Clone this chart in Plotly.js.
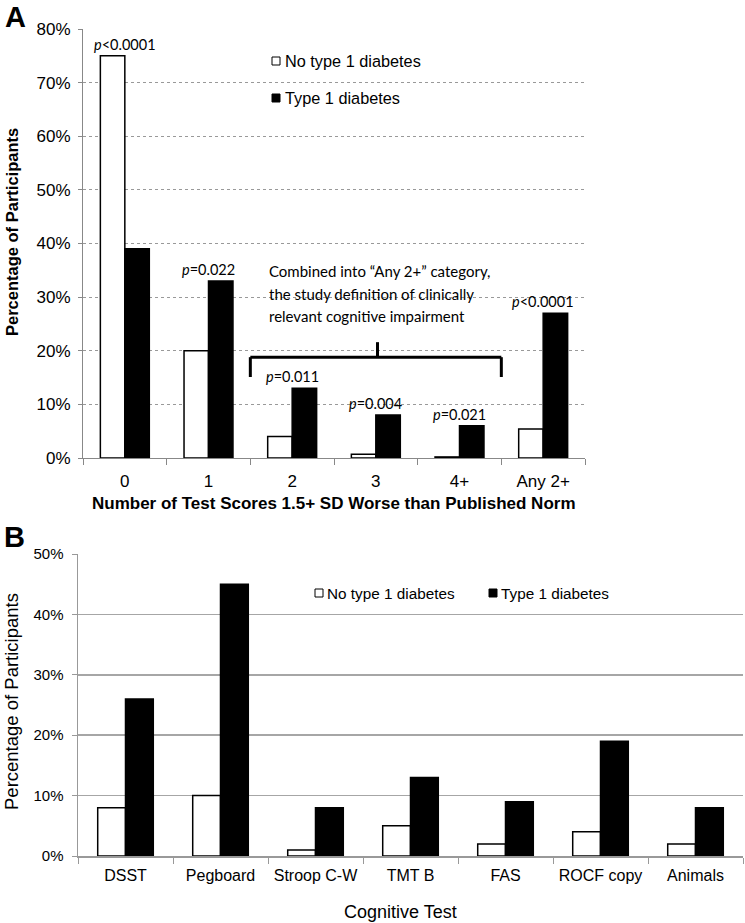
<!DOCTYPE html>
<html><head><meta charset="utf-8">
<script src="https://cdn.plot.ly/plotly-3.0.1.min.js"></script>
<style>body{margin:0;background:#fff}</style>
</head><body><div id="chart" style="width:745px;height:923px"></div>
<script>
// ---- data ----
const catsA = ['0', '1', '2', '3', '4+', 'Any 2+'];
const noT1dA = [75, 20, 4, 0.7, 0.2, 5.4];
const t1dA = [39, 33, 13, 8, 6, 27];
const pLabelsA = ['<i>p</i>&lt;0.0001', '<i>p</i>=0.022', '<i>p</i>=0.011', '<i>p</i>=0.004', '<i>p</i>=0.021', '<i>p</i>&lt;0.0001'];
const catsB = ['DSST', 'Pegboard', 'Stroop C-W', 'TMT B', 'FAS', 'ROCF copy', 'Animals'];
const noT1dB = [8, 10, 1, 5, 2, 4, 2];
const t1dB = [26, 45, 8, 13, 9, 19, 8];
const seriesNames = ['No type 1 diabetes', 'Type 1 diabetes'];
const bracketText = ['Combined into \u201cAny 2+\u201d category,', 'the study definition of clinically', 'relevant cognitive impairment'];

// ---- helpers (pixel -> paper) ----
const W = 745, H = 923;
const px = v => v / W;
const py = v => 1 - v / H;
const ARIAL = 'Arial, "Liberation Sans", sans-serif';
const CAL = 'Lato, "Open Sans", sans-serif';

const white = {color: '#ffffff', line: {color: '#000', width: 1.5}};
const black = {color: '#000000', line: {color: '#000', width: 1.5}};

const traces = [
  {type: 'bar', x: catsA, y: noT1dA, name: seriesNames[0], marker: white, xaxis: 'x', yaxis: 'y', showlegend: false, hoverinfo: 'none'},
  {type: 'bar', x: catsA, y: t1dA, name: seriesNames[1], marker: black, xaxis: 'x', yaxis: 'y', showlegend: false, hoverinfo: 'none'},
  {type: 'bar', x: catsB, y: noT1dB, name: seriesNames[0], marker: white, xaxis: 'x2', yaxis: 'y2', showlegend: false, hoverinfo: 'none'},
  {type: 'bar', x: catsB, y: t1dB, name: seriesNames[1], marker: black, xaxis: 'x2', yaxis: 'y2', showlegend: false, hoverinfo: 'none'}
];

const annotations = [];
// p-value labels
catsA.forEach((c, i) => {
  annotations.push({xref: 'x', yref: 'y', x: c, y: Math.max(noT1dA[i], t1dA[i]), yanchor: 'bottom', yshift: 1,
    text: pLabelsA[i], showarrow: false, font: {family: CAL, size: 14.5, color: '#000'}});
});
// bracket explanation text
const bracketY = [34.9, 30.6, 26.4];
bracketText.forEach((t, i) => {
  annotations.push({xref: 'x', yref: 'y', x: 1.7, y: bracketY[i], xanchor: 'left', yanchor: 'middle',
    text: t, showarrow: false, font: {family: CAL, size: 15, color: '#000'}});
});
// panel letters
annotations.push({xref: 'paper', yref: 'paper', x: px(3), y: py(17), xanchor: 'left', yanchor: 'middle', text: '<b>A</b>', showarrow: false, font: {family: ARIAL, size: 29, color: '#000'}});
annotations.push({xref: 'paper', yref: 'paper', x: px(2), y: py(537), xanchor: 'left', yanchor: 'middle', text: '<b>B</b>', showarrow: false, font: {family: ARIAL, size: 29, color: '#000'}});
// axis titles
annotations.push({xref: 'paper', yref: 'paper', x: px(12), y: py(232), xanchor: 'center', yanchor: 'middle', textangle: -90, text: '<b>Percentage of Participants</b>', showarrow: false, font: {family: ARIAL, size: 16.5, color: '#000'}});
annotations.push({xref: 'paper', yref: 'paper', x: px(334), y: py(503), xanchor: 'center', yanchor: 'middle', text: '<b>Number of Test Scores 1.5+ SD Worse than Published Norm</b>', showarrow: false, font: {family: ARIAL, size: 17, color: '#000'}});
annotations.push({xref: 'paper', yref: 'paper', x: px(11), y: py(702), xanchor: 'center', yanchor: 'middle', textangle: -90, text: 'Percentage of Participants', showarrow: false, font: {family: ARIAL, size: 18.5, color: '#000'}});
annotations.push({xref: 'paper', yref: 'paper', x: px(400), y: py(912), xanchor: 'center', yanchor: 'middle', text: 'Cognitive Test', showarrow: false, font: {family: ARIAL, size: 18, color: '#000'}});
// legends (text)
annotations.push({xref: 'paper', yref: 'paper', x: px(283), y: py(61), xanchor: 'left', yanchor: 'middle', text: seriesNames[0], showarrow: false, font: {family: ARIAL, size: 16.3, color: '#000'}});
annotations.push({xref: 'paper', yref: 'paper', x: px(283), y: py(98), xanchor: 'left', yanchor: 'middle', text: seriesNames[1], showarrow: false, font: {family: ARIAL, size: 16.3, color: '#000'}});
annotations.push({xref: 'paper', yref: 'paper', x: px(325), y: py(593), xanchor: 'left', yanchor: 'middle', text: seriesNames[0], showarrow: false, font: {family: ARIAL, size: 15.3, color: '#000'}});
annotations.push({xref: 'paper', yref: 'paper', x: px(499), y: py(593), xanchor: 'left', yanchor: 'middle', text: seriesNames[1], showarrow: false, font: {family: ARIAL, size: 15.3, color: '#000'}});

const shapes = [
  // bracket
  {type: 'line', xref: 'x', yref: 'y', x0: 1.5, x1: 4.5, y0: 18.8, y1: 18.8, line: {color: '#000', width: 3}},
  {type: 'line', xref: 'x', yref: 'y', x0: 1.5, x1: 1.5, y0: 18.8, y1: 15.1, line: {color: '#000', width: 3}},
  {type: 'line', xref: 'x', yref: 'y', x0: 4.5, x1: 4.5, y0: 18.8, y1: 15.1, line: {color: '#000', width: 3}},
  {type: 'line', xref: 'x', yref: 'y', x0: 3.02, x1: 3.02, y0: 18.8, y1: 21.6, line: {color: '#000', width: 3}},
  // legend squares
  {type: 'rect', xref: 'paper', yref: 'paper', x0: px(272), x1: px(280), y0: py(57), y1: py(65), fillcolor: '#fff', line: {color: '#000', width: 1}},
  {type: 'rect', xref: 'paper', yref: 'paper', x0: px(272), x1: px(280), y0: py(94), y1: py(102), fillcolor: '#000', line: {color: '#000', width: 1}},
  {type: 'rect', xref: 'paper', yref: 'paper', x0: px(315), x1: px(323), y0: py(589), y1: py(597), fillcolor: '#fff', line: {color: '#000', width: 1}},
  {type: 'rect', xref: 'paper', yref: 'paper', x0: px(489), x1: px(497), y0: py(589), y1: py(597), fillcolor: '#000', line: {color: '#000', width: 1}}
];

const layout = {
  width: W, height: H,
  margin: {l: 0, r: 0, t: 0, b: 0},
  paper_bgcolor: '#fff', plot_bgcolor: '#fff',
  barmode: 'group', bargap: 0.415, bargroupgap: 0,
  showlegend: false,
  font: {family: ARIAL, color: '#000'},
  xaxis: {domain: [px(83), px(585)], anchor: 'y', type: 'category', automargin: false,
    showline: true, linecolor: '#888', linewidth: 1, ticks: 'outside', tickson: 'boundaries', ticklen: 6, tickcolor: '#888',
    ticklabelstandoff: 8,
    showgrid: false, zeroline: false, tickfont: {family: ARIAL, size: 17, color: '#000'}},
  yaxis: {domain: [py(458), py(29)], anchor: 'x', range: [0, 80], dtick: 10, ticksuffix: '%', automargin: false,
    showline: true, linecolor: '#888', linewidth: 1, ticks: 'outside', ticklen: 4, tickcolor: '#888',
    ticklabelstandoff: 4,
    showgrid: true, gridcolor: '#999', griddash: 'dot', gridwidth: 1, zeroline: false,
    tickfont: {family: ARIAL, size: 17, color: '#000'}},
  xaxis2: {domain: [px(78), px(743)], anchor: 'y2', type: 'category', automargin: false,
    showline: true, linecolor: '#999', linewidth: 1.5, ticks: 'outside', tickson: 'boundaries', ticklen: 6, tickcolor: '#999',
    ticklabelstandoff: 4,
    showgrid: false, zeroline: false, tickfont: {family: ARIAL, size: 16, color: '#000'}},
  yaxis2: {domain: [py(856), py(554)], anchor: 'x2', range: [0, 50], dtick: 10, ticksuffix: '%', automargin: false,
    showline: true, linecolor: '#999', linewidth: 1.5, ticks: 'outside', ticklen: 5, tickcolor: '#999',
    ticklabelstandoff: 5,
    showgrid: true, gridcolor: '#a6a6a6', gridwidth: 1.5, zeroline: false,
    tickfont: {family: ARIAL, size: 15, color: '#000'}},
  annotations: annotations,
  shapes: shapes
};

Plotly.newPlot('chart', traces, layout, {staticPlot: true, displayModeBar: false});
</script>
</body></html>
